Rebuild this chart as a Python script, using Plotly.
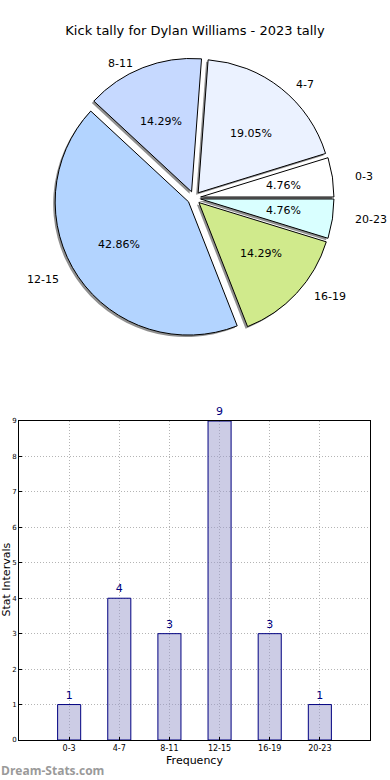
import math
import plotly.graph_objects as go

categories = ["0-3", "4-7", "8-11", "12-15", "16-19", "20-23"]
counts = [1, 4, 3, 9, 3, 1]
slice_colors = ["#FFFFFF", "#EBF2FF", "#C6D9FF", "#B3D4FF", "#D0EA8C", "#D9FFFF"]
y_ticks = list(range(0, 10))

W, H = 390, 780
cx, cy, half = 194, 198, 140          # pie centre / domain half-size in px
lab_rx, lab_ry = 140, 126              # text placement radii (px)
explode = 0.05
total = sum(counts)

def px_dom(x0, x1, y0, y1):
    return dict(x=[x0 / W, x1 / W], y=[1 - y1 / H, 1 - y0 / H])

pull = [explode] * len(categories)
rot = 90 - 360 * counts[0] / total

fig = go.Figure()

# shadow pie
fig.add_trace(go.Pie(
    labels=categories, values=counts, sort=False, direction="counterclockwise",
    rotation=rot, pull=pull, textinfo="none", hoverinfo="skip", showlegend=False,
    marker=dict(colors=["rgba(70,70,70,0.6)"] * len(categories), line=dict(width=0)),
    domain=px_dom(cx - half - 2, cx + half - 2, cy - half + 2, cy + half + 2),
))
# main pie
fig.add_trace(go.Pie(
    labels=categories, values=counts, sort=False, direction="counterclockwise",
    rotation=rot, pull=pull, textinfo="none", showlegend=False,
    marker=dict(colors=slice_colors, line=dict(color="#000000", width=1)),
    domain=px_dom(cx - half, cx + half, cy - half, cy + half),
))

# slice texts (percent inside, label outside)
cum = 0
for cat, v in zip(categories, counts):
    mid = math.radians(360 * (cum + v / 2) / total)
    cum += v
    c, s = math.cos(mid), math.sin(mid)
    px_ = cx + (0.6 + explode) * lab_rx * c
    py_ = cy - (0.6 + explode) * lab_ry * s
    fig.add_annotation(text=f"{100 * v / total:.2f}%", x=px_ / W, y=1 - py_ / H,
                       xref="paper", yref="paper", showarrow=False,
                       xanchor="center", yanchor="middle",
                       font=dict(size=11, family="DejaVu Sans", color="#000000"))
    lx = cx + (1.1 + explode) * lab_rx * c
    ly = cy - (1.1 + explode) * lab_ry * s
    fig.add_annotation(text=cat, x=lx / W, y=1 - ly / H, xref="paper", yref="paper",
                       showarrow=False, xanchor="left" if c >= 0 else "right", yanchor="middle",
                       font=dict(size=11, family="DejaVu Sans", color="#000000"))

# bar chart
fig.add_trace(go.Bar(
    x=list(range(len(categories))), y=counts, width=0.46,
    marker=dict(color="rgba(153,153,204,0.5)", line=dict(color="#000080", width=1)),
    text=[str(c) for c in counts], textposition="outside", cliponaxis=False,
    textfont=dict(family="DejaVu Sans", size=11, color="#000080"),
    showlegend=False, xaxis="x", yaxis="y",
))

grid = dict(showgrid=True, gridcolor="#b4b4b4", griddash="1px,2px", gridwidth=1,
            showline=True, linecolor="#000000", linewidth=1, mirror=True,
            ticks="inside", ticklen=3, tickcolor="#000000", zeroline=False, automargin=False)

fig.update_layout(
    width=W, height=H, margin=dict(l=0, r=0, t=0, b=0, autoexpand=False),
    paper_bgcolor="#FFFFFF", plot_bgcolor="#FFFFFF",
    font=dict(family="DejaVu Sans", color="#000000"),
    title=dict(text="Kick tally for Dylan Williams - 2023 tally", x=0.5, xanchor="center",
               y=1 - 30 / H, yanchor="middle", automargin=False,
               font=dict(size=13, family="DejaVu Sans")),
    xaxis=dict(domain=[19 / W, 370 / W], range=[-1, 6], tickvals=list(range(len(categories))),
               ticktext=categories, tickfont=dict(size=8),
               title=dict(text="Frequency", font=dict(size=11), standoff=4), anchor="y", **grid),
    yaxis=dict(domain=[1 - 740 / H, 1 - 421 / H], range=[0, 9], tickvals=y_ticks,
               tickfont=dict(size=7), anchor="x", **grid),
    bargap=0.5,
)

fig.add_annotation(text="Stat Intervals", x=5.5 / W, y=1 - 580 / H, xref="paper", yref="paper",
                   textangle=-90, showarrow=False, xanchor="center", yanchor="middle",
                   font=dict(size=11, family="DejaVu Sans", color="#000000"))

fig.add_annotation(text="<b>Dream-Stats.com</b>", x=-1 / W, y=1 - 770 / H, xref="paper", yref="paper",
                   xanchor="left", yanchor="middle", showarrow=False,
                   font=dict(size=12, color="#9a9a9a", family="Open Sans"))

fig.write_html("out.html", config={"displayModeBar": False},
               post_script="document.body.style.margin='0px';")
